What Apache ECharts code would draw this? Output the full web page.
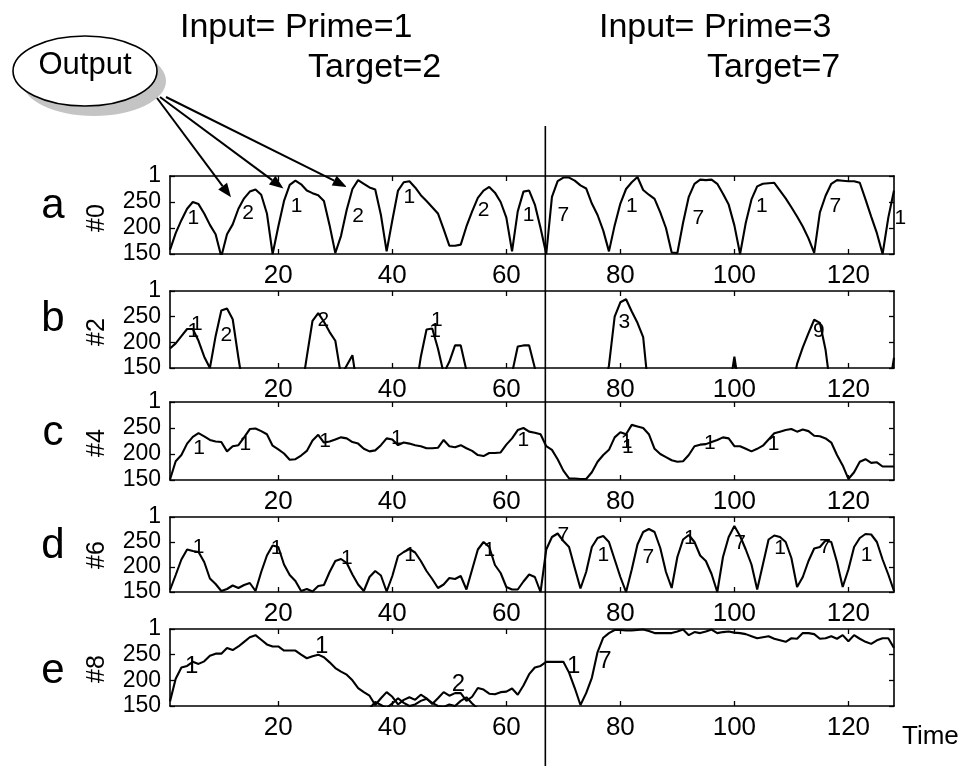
<!DOCTYPE html>
<html>
<head>
<meta charset="utf-8">
<script src="https://cdn.jsdelivr.net/npm/echarts@6/dist/echarts.min.js"></script>
<style>html,body{margin:0;padding:0;background:#fff;}#chart{width:966px;height:766px;}</style>
</head>
<body>
<div id="chart"></div>
<script>
// ---------------- DATA ----------------
const timeSteps = Array.from({length: 128}, (_, i) => i + 1);
const xTickValues = [20, 40, 60, 80, 100, 120];
const yTickLabels = {150: '150', 200: '200', 250: '250', 300: '1'};
const switchTime = 66.84;
const panelLetters = ['a', 'b', 'c', 'd', 'e'];
const unitNames = ['#0', '#2', '#4', '#6', '#8'];
const leftTitle = ['Input= Prime=1', 'Target=2'];
const rightTitle = ['Input= Prime=3', 'Target=7'];
const calloutText = 'Output';
const axisTitle = 'Time';
const arrowTargets = [[11.7, 259], [20.9, 276], [32, 279]];

const unit0 = [
  158,190,215,237,250,246,228,206,188,145,
  188,207,237,257,270,274,264,228,150,203,
  252,283,291,284,272,267,263,252,205,152,
  185,235,275,292,285,278,274,225,
  155,215,272,288,290,278,263,252,240,228,198,166,
  166,168,203,232,258,272,279,268,250,220,
  155,232,270,272,245,200,150,260,290,297,
  297,291,282,276,247,225,195,155,
  205,247,275,288,298,273,264,256,230,200,153,152,
  210,260,285,293,292,293,285,266,245,205,
  150,210,255,280,285,286,287,272,257,240,
  222,203,180,152,230,262,285,292,291,290,
  290,287,255,222,190,150,220,272
];
const unit2 = [
  188,198,212,226,226,203,172,150,212,262,
  266,245,170,100,100,100,100,100,100,100,
  100,100,100,100,172,242,257,240,220,203,
  135,155,175,100,100,100,100,100,100,100,
  100,100,100,100,172,225,227,188,140,162,
  194,194,145,100,100,100,100,100,100,100,
  140,192,194,194,150,100,100,100,100,100,
  100,100,100,100,100,100,100,155,250,278,
  284,260,238,210,100,100,100,100,100,100,
  100,100,100,100,100,100,100,100,100,172,
  100,100,100,100,100,100,100,100,100,100,
  158,190,218,244,238,185,100,100,100,100,
  100,100,100,100,100,100,100,170
];
const unit4 = [
  151,186,198,220,233,240,234,227,224,223,
  205,215,217,232,248,249,244,238,216,209,
  201,189,190,197,206,226,237,222,224,228,
  232,230,223,220,210,205,207,217,230,228,
  217,222,220,217,215,211,211,212,227,215,
  213,217,211,206,198,196,202,202,203,218,
  230,246,250,243,241,238,215,208,190,168,
  153,153,152,152,165,185,198,208,232,242,
  238,256,253,250,238,210,200,194,188,185,
  186,198,215,218,219,223,227,232,230,215,
  215,210,205,210,216,228,240,243,246,248,
  243,247,244,235,234,230,222,198,178,152,
  165,185,190,183,184,176,176,176
];
const unit6 = [
  154,184,215,235,232,230,210,177,166,152,
  156,163,158,164,168,152,190,223,243,240,
  205,184,172,152,156,151,162,164,190,212,
  216,208,185,165,152,180,192,183,151,182,
  222,230,236,229,212,192,176,158,165,178,
  176,182,155,195,235,250,240,204,188,160,
  155,155,171,185,180,150,235,260,267,252,
  240,198,157,190,240,258,262,250,215,180,
  150,195,245,270,276,270,238,190,158,220,
  255,264,250,223,212,186,150,220,260,282,
  262,235,205,155,205,255,263,260,250,218,
  160,180,212,237,240,253,250,210,160,195,
  240,258,266,265,250,215,185,152
];
const unit8 = [
  159,203,225,228,236,232,237,248,252,252,
  263,259,266,275,284,288,279,270,266,266,
  258,258,258,250,243,247,250,245,235,224,
  217,211,200,185,177,170,152,165,177,168,
  153,162,167,162,172,165,154,165,177,170,
  175,175,160,168,185,182,174,173,177,178,
  184,172,190,212,225,228,236,236,236,236,
  215,185,152,175,205,255,283,292,298,298,
  297,297,298,299,296,292,292,292,292,295,
  299,288,294,292,295,299,292,294,295,293,
  292,290,286,282,284,286,281,278,275,282,
  281,292,292,290,281,282,286,281,288,276,
  288,281,275,271,278,282,282,263
];
// second trace in panel e (time steps 36..55)
const unit8bStart = 36;
const unit8b = [145,158,152,146,155,165,156,150,153,160,164,156,150,148,153,150,160,167,155,145];

// winner-class annotations: [time, level, text]
const labels0 = [[5.1,219,'1'],[14.7,228,'2'],[23.2,241,'1'],[34,222,'2'],[43,260,'1'],[56,235,'2'],[63.9,225,'1'],[70,225,'7'],[82,241,'1'],[93.7,219,'7'],[104.8,241,'1'],[117.7,241,'7'],[129.1,219,'1']];
const labels2 = [[5.7,236,'1'],[5.1,222,'1'],[10.9,214,'2'],[27.9,243,'2'],[47.8,243,'1'],[47.5,221,'1'],[80.7,240,'3'],[114.8,221,'9']];
const labels4 = [[6.1,211,'1'],[14.2,218,'1'],[28.2,224,'1'],[40.8,231,'1'],[63,227,'1'],[81.1,222,'1'],[81.3,213,'1'],[95.7,221,'1'],[106.9,218,'1']];
const labels6 = [[6,240,'1'],[19.7,237,'1'],[32,217,'1'],[43.1,223,'1'],[57,233,'1'],[70,263,'7'],[77,223,'1'],[84.9,220,'7'],[92.2,257,'1'],[101,247,'7'],[108,237,'1'],[115.9,240,'7'],[123.2,223,'1']];
const labels8 = [[4.8,227,'1'],[27.6,266,'1'],[51.6,192,'2'],[71.8,227,'1'],[77.3,237,'7']];

// ---------------- LAYOUT / STYLE ----------------
const FONT = '"Liberation Sans", Arial, Helvetica, sans-serif';
const gridTops = [176, 291, 402, 517, 629];
const gridHeights = [78, 77, 78, 75, 77];
const letterMid = [206, 319, 433, 546, 671];
const unitMid = [218, 332, 443, 555, 669];
const labelSizes = [21, 21, 21, 21, 24];

const panels = [
  {values: unit0, labels: labels0},
  {values: unit2, labels: labels2},
  {values: unit4, labels: labels4},
  {values: unit6, labels: labels6},
  {values: unit8, labels: labels8}
];

const grids = [], xAxes = [], yAxes = [], series = [];
panels.forEach((p, i) => {
  grids.push({left: 170, right: 72, top: gridTops[i], height: gridHeights[i], outerBoundsMode: 'none', containLabel: false});
  const axLine = {show: true, onZero: false, lineStyle: {color: '#000', width: 1.6}};
  const tick = {show: true, inside: true, length: 5, lineStyle: {color: '#000', width: 1.3}};
  xAxes.push({gridIndex: i, type: 'value', min: 1, max: 128, position: 'bottom',
    axisLine: axLine, axisTick: Object.assign({customValues: xTickValues}, tick),
    axisLabel: {customValues: xTickValues, fontSize: 26, color: '#000', margin: 9, fontFamily: FONT},
    splitLine: {show: false}});
  xAxes.push({gridIndex: i, type: 'value', min: 1, max: 128, position: 'top',
    axisLine: axLine, axisTick: Object.assign({customValues: xTickValues}, tick),
    axisLabel: {show: false}, splitLine: {show: false}});
  yAxes.push({gridIndex: i, type: 'value', min: 150, max: 300, interval: 50, position: 'left',
    axisLine: axLine, axisTick: tick,
    axisLabel: {fontSize: 23, color: '#000', margin: 9, fontFamily: FONT, showMinLabel: true, showMaxLabel: true,
      formatter: v => yTickLabels[v] !== undefined ? yTickLabels[v] : ''},
    splitLine: {show: false}});
  yAxes.push({gridIndex: i, type: 'value', min: 150, max: 300, interval: 50, position: 'right',
    axisLine: axLine, axisTick: tick, axisLabel: {show: false}, splitLine: {show: false}});

  series.push({type: 'line', xAxisIndex: 2 * i, yAxisIndex: 2 * i, symbol: 'none', clip: true,
    lineStyle: {color: '#000', width: 2.1}, data: timeSteps.map((t, k) => [t, p.values[k]]), z: 3});
  series.push({type: 'scatter', xAxisIndex: 2 * i, yAxisIndex: 2 * i, clip: false, symbolSize: 0,
    itemStyle: {color: '#000', opacity: 1}, silent: true, z: 4,
    label: {show: true, position: 'inside', formatter: d => d.value[2], fontSize: labelSizes[i], color: '#000',
      opacity: 1, textBorderWidth: 0, fontFamily: FONT},
    data: p.labels});
});
series.push({type: 'line', xAxisIndex: 8, yAxisIndex: 8, symbol: 'none', clip: true,
  lineStyle: {color: '#000', width: 2.1}, data: unit8b.map((v, k) => [unit8bStart + k, v]), z: 3});

const chart = echarts.init(document.getElementById('chart'), null, {renderer: 'canvas'});
chart.setOption({
  animation: false,
  backgroundColor: '#fff',
  grid: grids, xAxis: xAxes, yAxis: yAxes, series: series
});

// ---------------- ANNOTATIONS ----------------
function txt(x, y, text, size, align, extra) {
  return Object.assign({type: 'text', x: x, y: y, z: 100,
    style: {text: text, fontSize: size, fontFamily: FONT, fill: '#000', align: align || 'left', verticalAlign: 'middle'}}, extra || {});
}
function arrow(x1, y1, x2, y2) {
  const a = Math.atan2(y2 - y1, x2 - x1), L = 14, W = 5.5;
  const bx = x2 - L * Math.cos(a), by = y2 - L * Math.sin(a);
  return [
    {type: 'line', z: 100, shape: {x1: x1, y1: y1, x2: bx, y2: by}, style: {stroke: '#000', lineWidth: 2}},
    {type: 'polygon', z: 100, shape: {points: [[x2, y2], [bx - W * Math.sin(a), by + W * Math.cos(a)], [bx + W * Math.sin(a), by - W * Math.cos(a)]]}, style: {fill: '#000'}}
  ];
}
const g = [];
g.push(txt(180, 28, leftTitle[0], 34));
g.push(txt(308, 68, leftTitle[1], 34));
g.push(txt(599, 28, rightTitle[0], 34));
g.push(txt(707, 68, rightTitle[1], 34));
g.push({type: 'ellipse', z: 90, shape: {cx: 94, cy: 81, rx: 72, ry: 35}, style: {fill: '#c4c4c4'}});
g.push({type: 'ellipse', z: 91, shape: {cx: 85, cy: 71, rx: 72, ry: 35}, style: {fill: '#fff', stroke: '#000', lineWidth: 1.6}});
g.push(txt(85, 65, calloutText, 31, 'center'));
const starts = [[157, 98], [160, 97], [166, 97]];
arrowTargets.forEach((tgt, k) => {
  const p = chart.convertToPixel({xAxisIndex: 0, yAxisIndex: 0}, tgt);
  arrow(starts[k][0], starts[k][1], p[0], p[1]).forEach(e => g.push(e));
});
const vx = chart.convertToPixel({xAxisIndex: 0, yAxisIndex: 0}, [switchTime, 200])[0];
g.push({type: 'line', z: 100, shape: {x1: vx, y1: 126, x2: vx, y2: 766}, style: {stroke: '#000', lineWidth: 1.6}});
panelLetters.forEach((l, i) => g.push(txt(53, letterMid[i], l, 42, 'center')));
unitNames.forEach((u, i) => g.push(txt(97, unitMid[i], u, 25, 'center', {rotation: Math.PI / 2})));
g.push(txt(902, 737, axisTitle, 26));
chart.setOption({graphic: {elements: g}});
</script>
</body>
</html>
